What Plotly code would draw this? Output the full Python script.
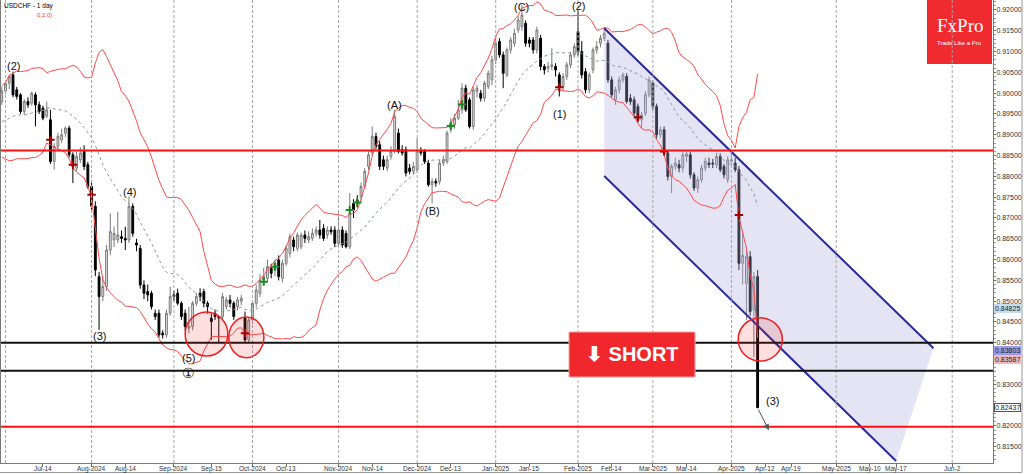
import pandas as pd
import plotly.graph_objects as go

# ---------------- data ----------------
title_text = "USDCHF - 1 day"
indicator_text = "0,2.0)"
first_bar = "2024-06-28"
last_bar = "2025-04-10"
no_bar_days = ["2024-12-25", "2025-01-01"]

opens = [
    0.8980, 0.9005, 0.9024, 0.9044, 0.9008, 0.8996, 0.8956, 0.8980, 0.8976, 0.8996,
    0.8972, 0.8964, 0.8945, 0.8936, 0.8836, 0.8872, 0.8888, 0.8904, 0.8916, 0.8852,
    0.8820, 0.8840, 0.8860, 0.8828, 0.8776, 0.8728, 0.8559, 0.8511, 0.8535, 0.8623,
    0.8647, 0.8647, 0.8655, 0.8651, 0.8647, 0.8728, 0.8640, 0.8627, 0.8539, 0.8523,
    0.8519, 0.8471, 0.8471, 0.8423, 0.8419, 0.8471, 0.8515, 0.8519, 0.8495, 0.8471,
    0.8435, 0.8439, 0.8495, 0.8519, 0.8523, 0.8495, 0.8459, 0.8471, 0.8463, 0.8463,
    0.8487, 0.8503, 0.8495, 0.8487, 0.8500, 0.8460, 0.8407, 0.8455, 0.8495, 0.8519,
    0.8551, 0.8555, 0.8579, 0.8575, 0.8599, 0.8555, 0.8591, 0.8615, 0.8647, 0.8627,
    0.8631, 0.8659, 0.8647, 0.8651, 0.8663, 0.8671, 0.8675, 0.8659, 0.8671, 0.8671,
    0.8639, 0.8671, 0.8663, 0.8631, 0.8735, 0.8743, 0.8751, 0.8776, 0.8824, 0.8856,
    0.8896, 0.8876, 0.8840, 0.8820, 0.8848, 0.8860, 0.8904, 0.8864, 0.8864, 0.8820,
    0.8812, 0.8816, 0.8860, 0.8860, 0.8832, 0.8780, 0.8788, 0.8788, 0.8832, 0.8836,
    0.8916, 0.8924, 0.8940, 0.8960, 0.9012, 0.8984, 0.8920, 0.9004, 0.9000, 0.8988,
    0.9016, 0.9032, 0.9080, 0.9124, 0.9092, 0.9044, 0.9104, 0.9120, 0.9152, 0.9160,
    0.9168, 0.9128, 0.9128, 0.9104, 0.9132, 0.9064, 0.9060, 0.9064, 0.9064, 0.9044,
    0.9016, 0.9040, 0.9068, 0.9092, 0.9148, 0.9100, 0.9052, 0.9008, 0.9056, 0.9104,
    0.9120, 0.9132, 0.9120, 0.9032, 0.8984, 0.9008, 0.9032, 0.9040, 0.8988, 0.8984,
    0.8968, 0.8936, 0.8952, 0.8996, 0.9024, 0.8968, 0.8900, 0.8912, 0.8856, 0.8800,
    0.8824, 0.8828, 0.8820, 0.8848, 0.8852, 0.8804, 0.8772, 0.8792, 0.8820, 0.8832,
    0.8832, 0.8828, 0.8848, 0.8824, 0.8792, 0.8836, 0.8832, 0.8816, 0.8591, 0.8543,
    0.8607, 0.8479, 0.8559,
]
highs = [
    0.9016, 0.9030, 0.9045, 0.9052, 0.9015, 0.9000, 0.8986, 0.8990, 0.9004, 0.9002,
    0.8980, 0.8970, 0.8980, 0.8960, 0.8880, 0.8905, 0.8915, 0.8920, 0.8922, 0.8858,
    0.8860, 0.8870, 0.8875, 0.8835, 0.8790, 0.8740, 0.8570, 0.8560, 0.8635, 0.8711,
    0.8680, 0.8715, 0.8670, 0.8679, 0.8752, 0.8735, 0.8650, 0.8635, 0.8550, 0.8540,
    0.8525, 0.8480, 0.8480, 0.8430, 0.8480, 0.8535, 0.8525, 0.8530, 0.8500, 0.8480,
    0.8487, 0.8500, 0.8520, 0.8531, 0.8530, 0.8500, 0.8470, 0.8480, 0.8463, 0.8520,
    0.8510, 0.8515, 0.8500, 0.8510, 0.8515, 0.8475, 0.8462, 0.8500, 0.8540, 0.8565,
    0.8580, 0.8600, 0.8590, 0.8600, 0.8610, 0.8600, 0.8635, 0.8663, 0.8655, 0.8665,
    0.8665, 0.8670, 0.8668, 0.8675, 0.8680, 0.8695, 0.8685, 0.8680, 0.8680, 0.8680,
    0.8711, 0.8680, 0.8670, 0.8760, 0.8745, 0.8755, 0.8785, 0.8820, 0.8860, 0.8920,
    0.8905, 0.8885, 0.8850, 0.8850, 0.8872, 0.8960, 0.8915, 0.8875, 0.8872, 0.8830,
    0.8835, 0.8892, 0.8870, 0.8865, 0.8840, 0.8795, 0.8795, 0.8840, 0.8850, 0.8910,
    0.8940, 0.8950, 0.8984, 0.9024, 0.9020, 0.8990, 0.9015, 0.9020, 0.9008, 0.9030,
    0.9055, 0.9090, 0.9140, 0.9132, 0.9100, 0.9110, 0.9135, 0.9155, 0.9185, 0.9212,
    0.9175, 0.9135, 0.9135, 0.9160, 0.9140, 0.9070, 0.9075, 0.9108, 0.9072, 0.9050,
    0.9048, 0.9075, 0.9100, 0.9120, 0.9200, 0.9125, 0.9060, 0.9050, 0.9110, 0.9125,
    0.9140, 0.9156, 0.9128, 0.9040, 0.9015, 0.9040, 0.9050, 0.9048, 0.8998, 0.8992,
    0.8975, 0.8955, 0.9005, 0.9040, 0.9030, 0.8975, 0.8920, 0.8920, 0.8860, 0.8830,
    0.8845, 0.8840, 0.8860, 0.8862, 0.8860, 0.8810, 0.8800, 0.8828, 0.8845, 0.8845,
    0.8842, 0.8856, 0.8855, 0.8830, 0.8848, 0.8860, 0.8845, 0.8825, 0.8665, 0.8620,
    0.8620, 0.8570, 0.8575,
]
lows = [
    0.8972, 0.8998, 0.9010, 0.8990, 0.8985, 0.8950, 0.8948, 0.8965, 0.8970, 0.8920,
    0.8950, 0.8935, 0.8940, 0.8830, 0.8816, 0.8865, 0.8880, 0.8895, 0.8845, 0.8784,
    0.8812, 0.8832, 0.8815, 0.8770, 0.8720, 0.8560, 0.8431, 0.8500, 0.8525, 0.8610,
    0.8630, 0.8640, 0.8640, 0.8623, 0.8640, 0.8655, 0.8620, 0.8530, 0.8505, 0.8500,
    0.8480, 0.8455, 0.8412, 0.8410, 0.8412, 0.8465, 0.8500, 0.8490, 0.8455, 0.8430,
    0.8423, 0.8430, 0.8488, 0.8500, 0.8485, 0.8470, 0.8407, 0.8455, 0.8399, 0.8455,
    0.8480, 0.8485, 0.8455, 0.8478, 0.8490, 0.8400, 0.8400, 0.8445, 0.8485, 0.8510,
    0.8540, 0.8545, 0.8555, 0.8560, 0.8550, 0.8545, 0.8585, 0.8605, 0.8620, 0.8620,
    0.8625, 0.8640, 0.8640, 0.8645, 0.8655, 0.8650, 0.8645, 0.8650, 0.8660, 0.8630,
    0.8630, 0.8628, 0.8627, 0.8625, 0.8700, 0.8725, 0.8740, 0.8770, 0.8815, 0.8850,
    0.8865, 0.8815, 0.8815, 0.8812, 0.8840, 0.8855, 0.8855, 0.8850, 0.8800, 0.8805,
    0.8805, 0.8810, 0.8850, 0.8830, 0.8775, 0.8735, 0.8775, 0.8780, 0.8825, 0.8830,
    0.8905, 0.8915, 0.8935, 0.8950, 0.8955, 0.8915, 0.8912, 0.8990, 0.8980, 0.8980,
    0.9010, 0.9020, 0.9070, 0.9085, 0.9012, 0.9038, 0.9095, 0.9112, 0.9145, 0.9150,
    0.9112, 0.9110, 0.9095, 0.9095, 0.9055, 0.9045, 0.9050, 0.9055, 0.9040, 0.8992,
    0.9008, 0.9032, 0.9060, 0.9085, 0.9090, 0.9035, 0.9000, 0.9000, 0.9048, 0.9095,
    0.9110, 0.9125, 0.9025, 0.8990, 0.8972, 0.9000, 0.9025, 0.8975, 0.8972, 0.8945,
    0.8928, 0.8916, 0.8945, 0.8990, 0.8960, 0.8890, 0.8892, 0.8855, 0.8790, 0.8760,
    0.8815, 0.8810, 0.8810, 0.8835, 0.8795, 0.8765, 0.8760, 0.8785, 0.8812, 0.8820,
    0.8820, 0.8820, 0.8810, 0.8795, 0.8784, 0.8825, 0.8810, 0.8575, 0.8540, 0.8455,
    0.8465, 0.8365, 0.8243,
]
closes = [
    0.9005, 0.9024, 0.9040, 0.8996, 0.8992, 0.8956, 0.8980, 0.8972, 0.9000, 0.8972,
    0.8956, 0.8940, 0.8960, 0.8836, 0.8872, 0.8896, 0.8900, 0.8916, 0.8852, 0.8824,
    0.8848, 0.8856, 0.8824, 0.8776, 0.8728, 0.8575, 0.8511, 0.8535, 0.8623, 0.8667,
    0.8663, 0.8659, 0.8651, 0.8647, 0.8728, 0.8663, 0.8635, 0.8539, 0.8519, 0.8515,
    0.8487, 0.8463, 0.8419, 0.8419, 0.8471, 0.8511, 0.8511, 0.8495, 0.8463, 0.8439,
    0.8440, 0.8495, 0.8511, 0.8511, 0.8495, 0.8487, 0.8451, 0.8463, 0.8460, 0.8511,
    0.8503, 0.8495, 0.8463, 0.8503, 0.8507, 0.8407, 0.8455, 0.8495, 0.8527, 0.8551,
    0.8560, 0.8583, 0.8567, 0.8591, 0.8559, 0.8591, 0.8627, 0.8655, 0.8631, 0.8659,
    0.8659, 0.8651, 0.8655, 0.8663, 0.8671, 0.8659, 0.8651, 0.8671, 0.8667, 0.8639,
    0.8671, 0.8635, 0.8631, 0.8711, 0.8719, 0.8735, 0.8776, 0.8812, 0.8852, 0.8896,
    0.8872, 0.8824, 0.8824, 0.8840, 0.8860, 0.8944, 0.8860, 0.8856, 0.8808, 0.8812,
    0.8824, 0.8860, 0.8856, 0.8836, 0.8780, 0.8788, 0.8784, 0.8832, 0.8840, 0.8904,
    0.8928, 0.8940, 0.8960, 0.9012, 0.8960, 0.8920, 0.9008, 0.9012, 0.8988, 0.9024,
    0.9048, 0.9080, 0.9120, 0.9092, 0.9048, 0.9104, 0.9128, 0.9144, 0.9176, 0.9188,
    0.9120, 0.9120, 0.9104, 0.9152, 0.9064, 0.9056, 0.9064, 0.9068, 0.9056, 0.9016,
    0.9040, 0.9068, 0.9092, 0.9112, 0.9100, 0.9044, 0.9008, 0.9044, 0.9104, 0.9112,
    0.9132, 0.9144, 0.9032, 0.8996, 0.9008, 0.9032, 0.9044, 0.8980, 0.8980, 0.8952,
    0.8936, 0.8948, 0.8996, 0.9032, 0.8968, 0.8900, 0.8912, 0.8860, 0.8800, 0.8824,
    0.8832, 0.8820, 0.8852, 0.8854, 0.8804, 0.8772, 0.8792, 0.8820, 0.8836, 0.8828,
    0.8830, 0.8848, 0.8816, 0.8804, 0.8840, 0.8840, 0.8816, 0.8591, 0.8610, 0.8607,
    0.8475, 0.8559, 0.8244,
]
# closes of the 19 sessions just left of the visible window (warm-up of the bands)
warmup_closes = [0.8985, 0.8925, 0.8920, 0.8905, 0.8975, 0.8965, 0.8960, 0.8920, 0.8955, 0.8905,
                 0.8885, 0.8840, 0.8850, 0.8895, 0.8935, 0.8935, 0.8940, 0.8960, 0.8985]
bb_period = 20
bb_deviations = 2.0

red_levels = [0.8862, 0.8198]
black_levels = [0.8400, 0.8333]

# channel polygon: upper start, upper end, lower end, lower start
channel_dates = ["2025-02-12", "2025-05-27", "2025-05-17", "2025-02-12"]
channel_prices = [0.9156, 0.8387, 0.8116, 0.8801]

circle_dates = ["2024-09-13", "2024-09-27", "2025-04-10"]
circle_shift_bars = [-0.3, 0.35, 0.7]
circle_prices = [0.8421, 0.8413, 0.8408]
circle_half_bars = [5.7, 4.7, 5.9]
circle_half_price = [0.0053, 0.0049, 0.0052]

wave_labels = ["(2)", "(4)", "(3)", "(5)", "①", "(A)", "(B)", "(C)", "(2)", "(1)", "(3)"]
wave_dates = ["2024-07-03", "2024-08-15", "2024-08-05", "2024-09-06", "2024-09-06", "2024-11-22",
              "2024-12-06", "2025-01-13", "2025-02-03", "2025-01-27", "2025-04-14"]
wave_prices = [0.9065, 0.8762, 0.8416, 0.8363, 0.8327, 0.8972, 0.8717, 0.9207, 0.9210, 0.8950, 0.8260]
wave_sizes = [11, 11, 11, 11, 14, 11, 11, 11, 11, 11, 11]

arrow_tail = ("2025-04-10", 0.8243)
arrow_head = ("2025-04-13", 0.8190)

red_cross_dates = ["2024-07-17", "2024-07-25", "2024-08-01", "2024-09-27", "2025-01-27", "2025-02-25", "2025-03-06", "2025-04-03"]
red_cross_prices = [0.8888, 0.8828, 0.8756, 0.8423, 0.9014, 0.8942, 0.8860, 0.8707]
green_cross_dates = ["2024-10-04", "2024-10-09", "2024-11-06", "2024-11-08", "2024-12-13", "2024-12-18"]
green_cross_prices = [0.8547, 0.8583, 0.8719, 0.8737, 0.8921, 0.8973]

tag_values = [0.84825, 0.83803, 0.83587, 0.82437]
tag_colors = ["#c6dcef", "#9c9ce6", "#f3b9b9", "#ffffff"]

tick_labels = ["Jul-14", "Aug-2024", "Aug-14", "Sep-2024", "Sep-15", "Oct-2024", "Oct-13", "Nov-2024",
               "Nov-14", "Dec-2024", "Dec-13", "Jan-2025", "Jan-15", "Feb-2025", "Feb-14", "Mar-2025",
               "Mar-14", "Apr-2025", "Apr-12", "Apr-19", "May-2025", "May-10", "May-17", "Jun-2"]
tick_dates = ["2024-07-14", "2024-08-01", "2024-08-14", "2024-09-01", "2024-09-15", "2024-10-01",
              "2024-10-13", "2024-11-01", "2024-11-14", "2024-12-01", "2024-12-13", "2025-01-01",
              "2025-01-15", "2025-02-01", "2025-02-14", "2025-03-01", "2025-03-14", "2025-04-01",
              "2025-04-12", "2025-04-19", "2025-05-01", "2025-05-10", "2025-05-17", "2025-06-01"]
month_grid_dates = ["2024-07-01", "2024-08-01", "2024-09-01", "2024-10-01", "2024-11-01", "2024-12-01",
                    "2025-01-01", "2025-02-01", "2025-03-01", "2025-04-01", "2025-05-01", "2025-06-01"]

view_start_bar = -0.21
view_future_days = 62.9
price_range = [0.8111, 0.9224]
price_step = 0.005

# ---------------- helpers ----------------
n = len(closes)
bars = pd.bdate_range(first_bar, last_bar)
bars = bars[~bars.isin(pd.to_datetime(no_bar_days))][:n]


def pos(d):
    """bar index for history, calendar days after the last bar for the future"""
    d = pd.Timestamp(d)
    if d <= bars[-1]:
        return float(bars.searchsorted(d))
    return float(n - 1 + (d - bars[-1]).days)


xs = list(range(n))
allc = pd.Series(warmup_closes + closes)
mid = allc.rolling(bb_period).mean()
sd = allc.rolling(bb_period).std(ddof=0)
off = len(warmup_closes)
bb_mid = mid.iloc[off:].tolist()
bb_up = (mid + bb_deviations * sd).iloc[off:].tolist()
bb_lo = (mid - bb_deviations * sd).iloc[off:].tolist()

# price ticks; the ones hidden under a price tag are left out
y_ticks = []
k = int(round(price_range[0] / price_step)) + 1
while k * price_step <= price_range[1]:
    v = round(k * price_step, 5)
    if all(abs(v - t) > 0.0012 for t in tag_values):
        y_ticks.append(v)
    k += 1

FONT = "Liberation Sans, Arial, sans-serif"
W, H = 1024, 474
ML, MR, MT, MB = 1, 31, 0, 11
PW, PH = W - ML - MR, H - MT - MB


def px_x(p):
    return (p - ML) / PW


def px_y(p):
    return 1 - (p - MT) / PH


fig = go.Figure()

# channel shading
fig.add_trace(go.Scatter(x=[pos(d) for d in channel_dates], y=channel_prices, mode="lines",
                         fill="toself", fillcolor="rgba(170,170,222,0.32)", line=dict(width=0),
                         hoverinfo="skip"))

# bollinger bands
fig.add_trace(go.Scatter(x=xs, y=bb_up, mode="lines", line=dict(color="#ff4a4a", width=1), hoverinfo="skip"))
fig.add_trace(go.Scatter(x=xs, y=bb_lo, mode="lines", line=dict(color="#ff4a4a", width=1), hoverinfo="skip"))
fig.add_trace(go.Scatter(x=xs, y=bb_mid, mode="lines", line=dict(color="#8a9a9a", width=1, dash="dot"),
                         hoverinfo="skip"))

# candles
fig.add_trace(go.Candlestick(
    x=xs, open=opens, high=highs, low=lows, close=closes,
    increasing=dict(fillcolor="#e4e4e4", line=dict(color="#7a7a7a", width=1)),
    decreasing=dict(fillcolor="#000000", line=dict(color="#000000", width=1)),
    whiskerwidth=0,
))

# channel lines
fig.add_trace(go.Scatter(x=[pos(channel_dates[0]), pos(channel_dates[1])], y=channel_prices[0:2],
                         mode="lines", line=dict(color="#2a2a9c", width=2), hoverinfo="skip"))
fig.add_trace(go.Scatter(x=[pos(channel_dates[3]), pos(channel_dates[2])], y=[channel_prices[3], channel_prices[2]],
                         mode="lines", line=dict(color="#2a2a9c", width=2), hoverinfo="skip"))

# band-cross markers
fig.add_trace(go.Scatter(x=[pos(d) for d in red_cross_dates], y=red_cross_prices, mode="markers",
                         marker=dict(symbol="cross-thin", size=6, line=dict(color="#a00000", width=2)),
                         hoverinfo="skip"))
fig.add_trace(go.Scatter(x=[pos(d) for d in green_cross_dates], y=green_cross_prices, mode="markers",
                         marker=dict(symbol="cross-thin", size=6, line=dict(color="#1f8a1f", width=2)),
                         hoverinfo="skip"))

shapes = []
# logo box
shapes.append(dict(type="rect", xref="paper", yref="paper", x0=px_x(927), x1=px_x(992), y0=px_y(64), y1=1,
                   fillcolor="#ef2b2f", line=dict(width=0), layer="above"))
# month grid
for d in month_grid_dates:
    p = pos(d)
    shapes.append(dict(type="line", xref="x", yref="paper", x0=p, x1=p, y0=0, y1=1,
                       line=dict(color="#a8a8a8", width=1, dash="3px,2px"), layer="above"))
for lv in red_levels:
    shapes.append(dict(type="line", xref="paper", yref="y", x0=0, x1=1, y0=lv, y1=lv,
                       line=dict(color="#ff1010", width=2), layer="above"))
for lv in black_levels:
    shapes.append(dict(type="line", xref="paper", yref="y", x0=0, x1=1, y0=lv, y1=lv,
                       line=dict(color="#111111", width=2), layer="above"))
for d, sh, pr, hb, hp in zip(circle_dates, circle_shift_bars, circle_prices, circle_half_bars, circle_half_price):
    c = pos(d) + sh
    shapes.append(dict(type="circle", xref="x", yref="y", x0=c - hb, x1=c + hb, y0=pr - hp, y1=pr + hp,
                       fillcolor="rgba(240,40,40,0.15)", line=dict(color="#ee2020", width=1.5), layer="above"))
# SHORT box
shapes.append(dict(type="rect", xref="paper", yref="paper", x0=px_x(569), x1=px_x(695), y0=px_y(377), y1=px_y(332),
                   fillcolor="#f0282d", line=dict(color="#f7a5a5", width=1), layer="above"))
# outer frame
shapes.append(dict(type="line", xref="paper", yref="paper", x0=px_x(0), x1=px_x(1022), y0=px_y(472.5), y1=px_y(472.5),
                   line=dict(color="#9a9a9a", width=1)))
shapes.append(dict(type="line", xref="paper", yref="paper", x0=px_x(1022), x1=px_x(1022), y0=px_y(472.5), y1=1,
                   line=dict(color="#9a9a9a", width=1)))

annotations = []
for t, d, pr, fs in zip(wave_labels, wave_dates, wave_prices, wave_sizes):
    annotations.append(dict(x=pos(d), y=pr, xref="x", yref="y", text=t, showarrow=False,
                            xanchor="center", yanchor="middle",
                            font=dict(family=FONT, size=fs, color="#111111")))
annotations.append(dict(x=pos(arrow_head[0]), y=arrow_head[1], ax=pos(arrow_tail[0]), ay=arrow_tail[1],
                        xref="x", yref="y", axref="x", ayref="y", text="", showarrow=True,
                        arrowhead=2, arrowsize=1.2, arrowwidth=1, arrowcolor="#555555"))
annotations.append(dict(x=px_x(632), y=px_y(354), xref="paper", yref="paper", text="<b>⬇ SHORT</b>",
                        xanchor="center", yanchor="middle",
                        showarrow=False, font=dict(family=FONT, size=20, color="white")))
annotations.append(dict(x=px_x(959.5), y=px_y(38.5), xref="paper", yref="paper", text="FxPro",
                        xanchor="center", yanchor="bottom", showarrow=False,
                        font=dict(family="Liberation Serif, Times New Roman, serif", size=19, color="white")))
annotations.append(dict(x=px_x(959.5), y=px_y(38.5), xref="paper", yref="paper", text="Trade Like a Pro",
                        xanchor="center", yanchor="top", showarrow=False,
                        font=dict(family=FONT, size=6, color="white")))
annotations.append(dict(x=px_x(2), y=px_y(6), xref="paper", yref="paper", text=title_text,
                        xanchor="left", yanchor="middle",
                        showarrow=False, font=dict(family=FONT, size=6.5, color="#000000")))
annotations.append(dict(x=px_x(35), y=px_y(15), xref="paper", yref="paper", text=indicator_text,
                        xanchor="left", yanchor="middle",
                        showarrow=False, font=dict(family=FONT, size=6, color="#ff3030")))
for v, col in zip(tag_values, tag_colors):
    annotations.append(dict(x=1, y=v, xref="paper", yref="y", text=f"{v:.5f}", xanchor="left", yanchor="middle",
                            xshift=1, showarrow=False, bgcolor=col,
                            bordercolor="#555555" if col == "#ffffff" else col,
                            borderwidth=1, borderpad=0, font=dict(family=FONT, size=7, color="#222222")))
# date labels under the axis
for t, d in zip(tick_labels, tick_dates):
    annotations.append(dict(x=pos(d), y=px_y(468.5), xref="x", yref="paper", text=t, showarrow=False,
                            xanchor="center", yanchor="middle", font=dict(family=FONT, size=6.5, color="#333333")))

fig.update_layout(
    width=W, height=H, margin=dict(l=ML, r=MR, t=MT, b=MB),
    paper_bgcolor="white", plot_bgcolor="white", showlegend=False,
    shapes=shapes, annotations=annotations,
    xaxis=dict(range=[view_start_bar, n - 1 + view_future_days], tickmode="array",
               tickvals=[pos(d) for d in tick_dates], showticklabels=False,
               ticks="outside", ticklen=3, tickcolor="#707070",
               showline=True, linecolor="#7a7a7a", linewidth=1, showgrid=False, zeroline=False,
               rangeslider=dict(visible=False), automargin=False, fixedrange=True),
    yaxis=dict(side="right", range=price_range, tickmode="array", tickvals=y_ticks,
               ticktext=[f"{v:.5f}" for v in y_ticks],
               ticks="outside", ticklen=2, tickcolor="#707070", tickfont=dict(family=FONT, size=7, color="#333333"),
               ticklabelstandoff=-1,
               minor=dict(ticks="outside", ticklen=2, tickmode="linear", tick0=0.8, dtick=0.001, tickcolor="#999999"),
               showline=True, linecolor="#7a7a7a", linewidth=1, mirror=True, showgrid=False, zeroline=False,
               automargin=False, fixedrange=True),
)

fig.write_html("out.html", config={"displayModeBar": False},
               post_script="document.body.style.margin='0';document.body.style.overflow='hidden';")
